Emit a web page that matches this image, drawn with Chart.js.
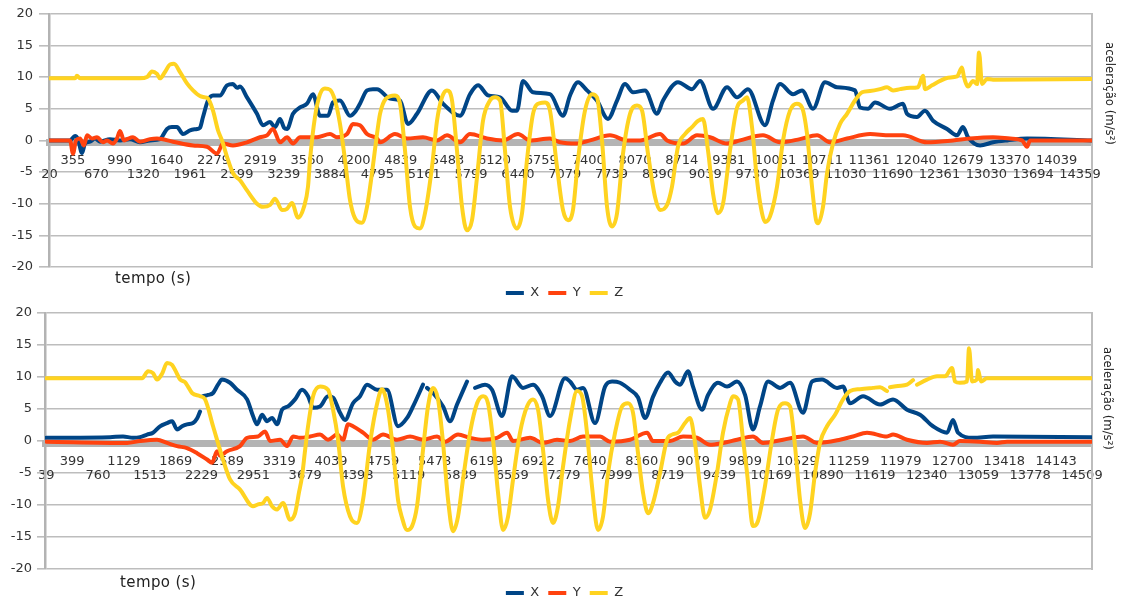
<!DOCTYPE html>
<html>
<head>
<meta charset="utf-8">
<script src="https://cdn.jsdelivr.net/npm/chart.js@4.4.1/dist/chart.umd.min.js"></script>
<style>
body { margin: 0; background: #fff; width: 1129px; height: 608px; overflow: hidden; position: relative; font-family: 'DejaVu Sans', sans-serif; }
.box { position: absolute; left: 0; width: 1129px; }
.xtitle { position: absolute; font-size: 15px; line-height: 15px; color: #222; letter-spacing: 0.4px; white-space: nowrap; }
.ytitle { position: absolute; writing-mode: vertical-rl; font-family: 'DejaVu Sans Condensed', 'DejaVu Sans', sans-serif; font-stretch: condensed; font-size: 13px; line-height: 16px; color: #222; white-space: nowrap; }
</style>
</head>
<body>
<div class="box" style="top:0;height:300px"><canvas id="chartTop"></canvas></div>
<div class="box" style="top:300px;height:308px"><canvas id="chartBottom"></canvas></div>
<div class="xtitle" style="left:115px;top:271px">tempo (s)</div>
<div class="xtitle" style="left:120px;top:575px">tempo (s)</div>
<div class="ytitle" style="left:1102px;top:42px">aceleração (m/s²)</div>
<div class="ytitle" style="left:1100px;top:347px">aceleração (m/s²)</div>
<script>
const seriesNames = ['X', 'Y', 'Z'];
const seriesColors = ['#004586', '#ff420e', '#ffd320'];

// category labels shown under the axis (every n-th sample time)
const topTicks = ['20', '355', '670', '990', '1320', '1640', '1961', '2279', '2599', '2919', '3239', '3560', '3884', '4200', '4795', '4839', '5161', '5483', '5799', '6120', '6440', '6759', '7079', '7400', '7739', '8070', '8390', '8714', '9039', '9381', '9730', '10051', '10369', '10711', '11030', '11361', '11690', '12040', '12361', '12679', '13030', '13370', '13694', '14039', '14359'];
const botTicks = ['39', '399', '760', '1129', '1513', '1869', '2229', '2589', '2951', '3319', '3679', '4039', '4398', '4759', '5119', '5478', '5839', '6199', '6559', '6922', '7279', '7640', '7999', '8360', '8719', '9079', '9439', '9809', '10169', '10529', '10890', '11259', '11619', '11979', '12340', '12700', '13059', '13418', '13778', '14143', '14509'];

// [tempo, aceleração]
const topX = [[20,0],[305,0],[375,0.7],[416,0.2],[472,-2],[514,-0.5],[583,-0.2],[653,0.3],[723,-0.2],[862,0.2],[1001,0],[1140,0.2],[1279,-0.3],[1418,0],[1557,0.2],[1655,1.8],[1724,2.1],[1794,2.1],[1877,1],[1975,1.6],[2072,1.8],[2114,2],[2156,3.7],[2225,6.3],[2295,7.1],[2392,7.1],[2490,8.7],[2573,8.9],[2629,8.3],[2671,8.5],[2768,6.8],[2907,4.2],[2991,2.4],[3088,2.9],[3158,2.1],[3227,3.4],[3283,2],[3325,1.8],[3408,4.2],[3506,5.2],[3603,5.8],[3686,7.3],[3784,3.9],[3895,3.9],[3965,6],[4062,6.3],[4201,3.9],[4271,4.5],[4340,5.8],[4438,7.9],[4521,8.1],[4577,8.1],[4758,6.6],[4897,6.3],[5008,2.6],[5134,4.2],[5342,7.9],[5495,5.8],[5732,3.9],[5871,7.3],[5983,8.7],[6122,7.1],[6289,6.8],[6456,4.7],[6525,4.7],[6609,9.4],[6748,7.6],[6984,7.3],[7165,3.9],[7263,7.1],[7374,9.2],[7499,7.9],[7638,6.3],[7791,3.4],[7917,6.3],[8028,8.9],[8139,7.6],[8306,7.9],[8473,4.2],[8557,6.3],[8765,9.2],[8960,8.1],[9072,9.4],[9253,5],[9448,8.4],[9587,6.8],[9739,8.1],[9976,2.4],[10087,6.3],[10185,8.9],[10366,7.3],[10491,7.9],[10644,5],[10811,9.2],[10978,8.4],[11228,7.9],[11298,5.2],[11409,5],[11507,6],[11715,5],[11896,5.8],[11952,4.2],[12091,3.7],[12202,4.7],[12314,3.1],[12509,1.8],[12648,0.8],[12731,2.1],[12801,0.5],[12968,-0.8],[13149,-0.3],[13344,0],[13622,0.3],[14526,0]];
const topY = [[20,0],[305,0],[347,-2.1],[389,0],[444,0.3],[500,-0.8],[542,0.8],[611,0.3],[681,0.5],[764,-0.3],[820,0],[903,-0.5],[959,0.3],[1001,1.5],[1056,0],[1098,0.2],[1182,0.5],[1279,-0.2],[1418,0.2],[1516,0.3],[1738,-0.2],[2017,-0.8],[2211,-1],[2351,-2.1],[2434,-0.5],[2573,-0.8],[2768,-0.3],[2949,0.5],[3046,0.8],[3130,1.8],[3227,-0.3],[3325,0.5],[3408,-0.5],[3506,0.5],[3742,0.5],[3923,1],[4020,0.5],[4160,1],[4243,2.6],[4340,2.4],[4438,1],[4577,0.3],[4619,-0.3],[4827,1],[4995,0.3],[5217,0.5],[5412,0],[5551,0.8],[5732,-0.3],[5871,1],[6108,0.3],[6331,0],[6539,1],[6706,0],[6984,0.3],[7123,-0.3],[7360,-0.5],[7541,0],[7819,0.8],[8056,0],[8237,0],[8515,1],[8613,0],[8835,-0.5],[9030,0.8],[9211,0.5],[9448,-0.5],[9628,0],[9948,0.8],[10185,-0.3],[10463,0.2],[10700,0.8],[10880,-0.3],[11117,0.3],[11437,1],[11715,0.8],[11896,0.8],[12230,-0.3],[12592,0],[12829,0.3],[13149,0.5],[13385,0.3],[13552,0],[13622,-1],[13664,0],[14526,0]];
const topZ = [[20,9.8],[375,9.8],[402,10.2],[444,9.8],[1279,9.8],[1377,10],[1446,10.9],[1516,10.5],[1557,9.8],[1627,10.8],[1697,12],[1752,12.1],[1836,10.8],[1933,9],[2017,7.9],[2114,7],[2184,6.8],[2225,6.6],[2295,4.7],[2364,1.6],[2420,0],[2490,-2.6],[2573,-5.2],[2671,-6.3],[2768,-7.9],[2907,-10],[2991,-10.5],[3088,-10.2],[3158,-9.2],[3255,-11],[3325,-10.8],[3394,-9.9],[3478,-12.2],[3561,-10.5],[3617,-7.3],[3645,-3.1],[3714,3.7],[3784,7.3],[3853,8.2],[3923,8],[3993,6.3],[4062,2.6],[4132,-3.1],[4201,-9.4],[4271,-12.3],[4368,-13],[4438,-10.5],[4507,-5.2],[4577,1],[4619,4.2],[4702,6.6],[4827,7.1],[4897,5.8],[4967,-1.6],[5036,-10.5],[5106,-13.6],[5175,-13.9],[5245,-11.5],[5342,-4.2],[5412,3.1],[5481,6.8],[5551,7.9],[5621,6.3],[5690,-1.6],[5760,-10.5],[5829,-14.2],[5899,-12.6],[5969,-5.8],[6052,3.1],[6149,6.3],[6219,6.8],[6289,6.3],[6358,-1.6],[6428,-10.5],[6525,-13.9],[6595,-11.5],[6664,-3.1],[6748,4.2],[6845,5.9],[6915,6],[6984,4.7],[7082,-4.2],[7165,-11],[7235,-12.6],[7304,-11],[7374,-3.1],[7471,4.7],[7569,7.3],[7638,6.8],[7708,0],[7778,-10.5],[7847,-13.6],[7917,-11.5],[8000,-2.1],[8098,4.2],[8195,5.5],[8265,4.7],[8348,-2.1],[8445,-8.9],[8515,-11],[8613,-10.2],[8682,-7.3],[8765,-1],[8863,1],[8960,2.1],[9044,3.1],[9113,3.4],[9183,-1.6],[9253,-8.4],[9322,-11.5],[9392,-10],[9489,-1.6],[9587,5.2],[9670,6.3],[9725,6.8],[9795,2.1],[9865,-6.3],[9934,-11.5],[9976,-12.9],[10046,-12],[10143,-7.3],[10227,0],[10324,4.7],[10421,5.8],[10491,5.2],[10561,1],[10630,-7.3],[10686,-12.6],[10714,-13.1],[10783,-10.5],[10839,-5.2],[10922,-0.5],[11020,2.6],[11117,4.2],[11228,6.3],[11326,7.6],[11437,7.8],[11576,8.1],[11674,8.4],[11757,7.9],[11855,8.1],[11994,8.3],[12105,8.4],[12175,10.2],[12202,8.1],[12300,8.7],[12411,9.4],[12522,9.9],[12648,10.1],[12717,11.5],[12745,10],[12801,8.5],[12870,9.4],[12926,8.9],[12954,13.9],[12996,8.9],[13065,9.7],[13149,9.6],[14526,9.7]];

const botX = [[39,0.5],[931,0.6],[1112,0.7],[1252,0.5],[1350,0.6],[1448,1],[1531,1.3],[1629,2.3],[1727,2.8],[1797,3.1],[1867,1.8],[1937,2.3],[2006,2.6],[2090,2.8],[2146,3.5],[2188,4.6],[2209,null],[2230,7],[2300,7.2],[2370,7.5],[2439,8.8],[2495,9.6],[2607,9.1],[2705,8],[2845,6.5],[2928,3.9],[2984,2.6],[3054,4.1],[3124,3.1],[3194,3.6],[3264,2.6],[3334,4.9],[3417,5.4],[3515,6.5],[3613,8],[3697,7],[3767,5.2],[3864,5.4],[3976,7],[4046,6.8],[4144,4.4],[4214,3.3],[4325,5.9],[4423,7],[4521,8.8],[4661,8],[4800,8],[4954,2.3],[5080,3.6],[5164,5.4],[5303,8.8],[5331,null],[5359,8.3],[5443,7.5],[5583,5.4],[5680,3.1],[5778,5.7],[5918,9.3],[5974,null],[6030,8.3],[6169,8.8],[6267,8],[6407,3.9],[6547,10.1],[6700,8.3],[6840,8.8],[6966,7],[7078,3.9],[7287,9.8],[7357,9.3],[7455,8],[7539,8.3],[7706,2.8],[7846,8.5],[7944,9.3],[8055,9.1],[8195,8],[8307,6.8],[8405,3.6],[8516,6.9],[8614,9.1],[8726,10.7],[8824,9.3],[8894,8.8],[9005,10.9],[9075,8.5],[9201,4.9],[9285,7.2],[9424,9.1],[9550,8.5],[9690,9.3],[9802,7.2],[9913,1.8],[10011,5.4],[10123,9.3],[10291,8.3],[10430,9.1],[10612,4.4],[10738,9.3],[10877,9.6],[11087,8.3],[11171,8.5],[11269,5.9],[11450,7],[11688,5.7],[11869,6.5],[12065,4.9],[12246,4.1],[12428,2.3],[12624,1.3],[12707,3.3],[12777,1.3],[12987,0.5],[13266,0.7],[14649,0.6]];
const botY = [[39,-0.1],[1168,-0.3],[1350,0],[1587,0.2],[1727,-0.3],[1867,-0.8],[2006,-1.1],[2146,-1.9],[2286,-2.9],[2356,-3.4],[2425,-1.6],[2467,-2.3],[2565,-1.6],[2747,-0.8],[2845,0.5],[2998,0.7],[3096,1.5],[3166,0],[3306,0.2],[3403,-0.8],[3487,0.7],[3585,0.5],[3725,0.7],[3864,1],[3976,0.2],[4102,1],[4186,0.2],[4256,2.6],[4325,2.3],[4465,1.3],[4605,0.2],[4745,1],[4940,0.2],[5122,0.7],[5303,0.2],[5499,0.7],[5611,-0.1],[5792,1],[5960,0.5],[6142,0.2],[6337,0.5],[6477,1.3],[6561,0],[6798,0.5],[6980,-0.3],[7175,0.2],[7357,0],[7539,0.7],[7776,0.7],[7916,-0.1],[8195,0.2],[8433,1.3],[8516,0],[8754,0],[8936,0.7],[9131,0.5],[9313,-0.6],[9494,-0.3],[9690,0.2],[9913,0.7],[10053,-0.3],[10333,0.2],[10612,0.7],[10807,-0.3],[11129,0.2],[11310,0.7],[11506,1.3],[11785,0.7],[11869,1],[12065,0.2],[12344,-0.3],[12526,-0.1],[12707,-0.6],[12805,0],[13085,-0.1],[13322,-0.3],[13462,-0.1],[14649,-0.1]];
const botZ = [[39,9.8],[512,9.8],[1070,9.8],[1378,9.8],[1462,10.9],[1531,10.6],[1587,9.6],[1657,10.5],[1727,12.2],[1797,11.9],[1853,10.8],[1909,9.6],[1978,9.2],[2020,8.5],[2076,7.5],[2188,7],[2258,6.5],[2370,2.3],[2495,-2.4],[2607,-6],[2747,-7.6],[2928,-10.2],[2998,-9.9],[3068,-9.7],[3124,-8.9],[3194,-10.2],[3264,-10.7],[3348,-9.7],[3445,-12.3],[3515,-11.3],[3571,-8],[3613,-5.5],[3655,-1.5],[3697,2.3],[3767,7],[3864,8.5],[3976,8],[4046,4.9],[4116,0.2],[4186,-7.1],[4284,-11.8],[4381,-12.8],[4465,-9.2],[4563,-0.3],[4675,6.5],[4731,8.1],[4814,4.9],[4884,-1.4],[4954,-9.2],[5010,-12],[5080,-13.9],[5150,-13.3],[5219,-10.2],[5303,-1.4],[5373,5.4],[5443,8.3],[5513,6.5],[5583,-0.3],[5653,-9.2],[5722,-14.1],[5792,-11.8],[5862,-6],[5960,1.3],[6058,5.9],[6142,7],[6211,5.9],[6281,0.2],[6351,-8.1],[6421,-13.9],[6491,-11.8],[6561,-6],[6658,1.3],[6756,5.4],[6840,6.5],[6910,4.9],[6980,-1.4],[7050,-9.2],[7119,-12.8],[7189,-10.2],[7259,-4],[7357,3.3],[7455,7.8],[7525,7],[7594,1.3],[7664,-7.1],[7748,-13.9],[7818,-11.8],[7888,-5],[7986,1.3],[8083,5.4],[8167,5.9],[8237,4.4],[8307,-1.9],[8377,-8.1],[8447,-11.3],[8516,-9.7],[8614,-5],[8712,0.2],[8782,1],[8866,1.3],[8963,2.8],[9033,3.6],[9103,-0.3],[9173,-7.1],[9243,-12],[9313,-10.7],[9410,-5],[9494,1.3],[9592,5.9],[9634,7],[9704,6.5],[9774,0.2],[9830,-5],[9913,-13.3],[9983,-12.5],[10081,-7],[10179,0.2],[10263,4.9],[10360,5.9],[10430,5.4],[10500,-0.8],[10570,-9.2],[10640,-13.6],[10710,-11.3],[10780,-5],[10849,-0.3],[10947,2.3],[11059,4.1],[11171,6.5],[11269,7.8],[11408,8.1],[11590,8.3],[11688,8.4],[11785,7.8],[11806,null],[11827,8.4],[11939,8.6],[12065,8.8],[12149,9.5],[12176,null],[12204,8.8],[12344,9.6],[12484,10.1],[12596,10.1],[12693,11.4],[12735,9.3],[12805,9.1],[12903,9.3],[12931,14.5],[12973,9.3],[13043,9.6],[13057,11.1],[13099,9.3],[13182,9.8],[14649,9.8]];

Chart.defaults.font.family = "'DejaVu Sans', sans-serif";
Chart.defaults.font.size = 13;
Chart.defaults.color = '#333';

function buildChart(canvasId, ticks, series, box) {
    let first = Number(ticks[0]);
    let last = Number(ticks[ticks.length - 1]);
    let step = (last - first) / (ticks.length - 1);

    let datasets = series.map((data, i) => ({
        label: seriesNames[i],
        data: data,
        xAxisID: 'x',
        yAxisID: 'y',
        borderColor: seriesColors[i],
        backgroundColor: seriesColors[i],
        borderWidth: 4,
        pointRadius: 0,
        pointStyle: 'line',
        cubicInterpolationMode: 'monotone',
        borderJoinStyle: 'round',
        borderCapStyle: 'round',
        // Z on top of Y on top of X
        order: series.length - i
    }));

    return new Chart(document.getElementById(canvasId), {
        type: 'line',
        data: { datasets: datasets },
        options: {
            responsive: true,
            maintainAspectRatio: false,
            animation: false,
            events: [],
            layout: { padding: { top: 13, bottom: box.padBottom, left: 0, right: 0 } },
            plugins: {
                tooltip: { enabled: false },
                legend: {
                    position: 'bottom',
                    labels: {
                        usePointStyle: true,
                        pointStyleWidth: 18,
                        boxHeight: 4,
                        padding: 9,
                        color: '#333',
                        font: { size: 13 },
                        sort: (a, b) => a.datasetIndex - b.datasetIndex
                    }
                }
            },
            scales: {
                x: {
                    type: 'linear',
                    min: box.min,
                    max: box.max,
                    position: { y: box.band },
                    grid: { display: false },
                    border: { display: true, color: '#b4b4b4', width: 7 },
                    ticks: {
                        autoSkip: false,
                        maxRotation: 0,
                        minRotation: 0,
                        padding: 3,
                        color: '#333',
                        font: { size: 13, lineHeight: 1.08 },
                        // staggered labels: even ones on the second row
                        callback: (value, index) => index % 2 === 0 ? ['', ticks[index]] : [ticks[index], '']
                    },
                    afterBuildTicks: (scale) => {
                        scale.ticks = ticks.map((t, i) => ({ value: first + i * step }));
                    }
                },
                x2: {
                    axis: 'x',
                    type: 'linear',
                    position: 'bottom',
                    min: 0,
                    max: 1,
                    grid: { display: false },
                    border: { display: false },
                    ticks: { display: false },
                    afterFit: (scale) => { scale.height = box.gap; }
                },
                y: {
                    min: -20,
                    max: 20,
                    ticks: { stepSize: 5, padding: box.yPad, color: '#333', font: { size: 13 } },
                    grid: { color: '#bdbdbd', lineWidth: 1.6, drawTicks: true, tickLength: box.tickLength },
                    border: { color: '#b3b3b3', width: 2.5 },
                    afterFit: (scale) => { scale.width = box.left; }
                },
                y2: {
                    axis: 'y',
                    position: 'right',
                    min: -20,
                    max: 20,
                    grid: { display: false },
                    ticks: { display: false },
                    border: { color: '#bdbdbd', width: 2 },
                    afterFit: (scale) => { scale.width = 1129 - 1092; }
                }
            }
        }
    });
}

buildChart('chartTop', topTicks, [topX, topY, topZ],
    { min: 13, max: 14526, band: -0.4, left: 49, tickLength: 10, yPad: 6, gap: 10.5, padBottom: -9.5 });
buildChart('chartBottom', botTicks, [botX, botY, botZ],
    { min: 22, max: 14649, band: -0.45, left: 45, tickLength: 8, yPad: 5, gap: 8.5, padBottom: -1.5 });
</script>
</body>
</html>
